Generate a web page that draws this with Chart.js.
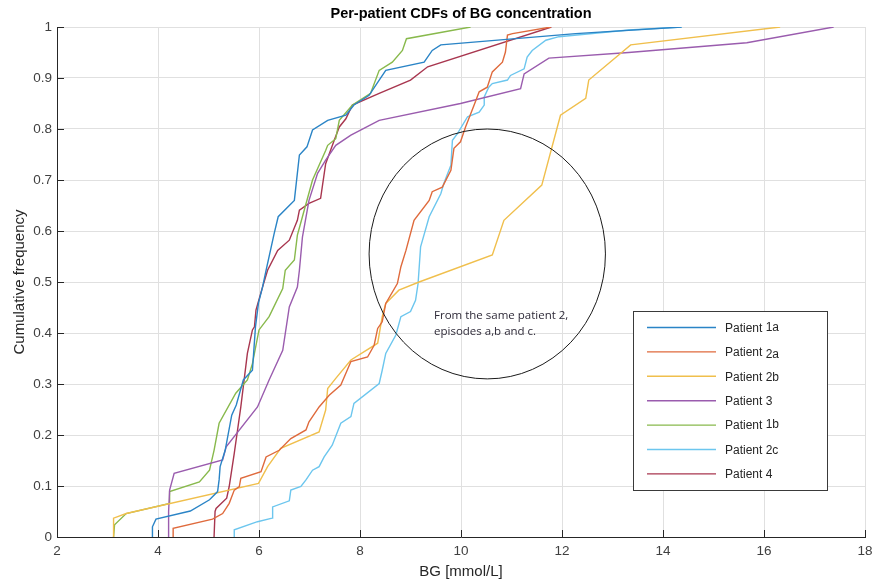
<!DOCTYPE html>
<html>
<head>
<meta charset="utf-8">
<title>Per-patient CDFs of BG concentration</title>
<script src="https://cdn.jsdelivr.net/npm/chart.js@4/dist/chart.umd.min.js"></script>
<style>
  html, body { margin: 0; padding: 0; background: #fff; }
  #wrap { width: 875px; height: 583px; }
</style>
</head>
<body>
<div id="wrap"><canvas id="cdfChart" width="875" height="583"></canvas></div>
<script>
// values (BG in mmol/L, cumulative frequency)
const p1aBG  = [3.89, 3.89, 3.96, 4.64, 5.02, 5.18, 5.21, 5.23, 5.33, 5.46, 5.55, 5.69, 5.87, 5.93, 5.99, 6.07, 6.14, 6.30, 6.38, 6.70, 6.80, 6.95, 7.06, 7.36, 7.72, 7.88, 8.18, 8.38, 8.51, 9.27, 9.43, 9.60, 12.27, 14.37];
const p1aCDF = [0, 0.02, 0.035, 0.051, 0.073, 0.089, 0.112, 0.138, 0.17, 0.239, 0.259, 0.308, 0.327, 0.412, 0.459, 0.49, 0.523, 0.595, 0.628, 0.66, 0.749, 0.765, 0.798, 0.817, 0.827, 0.847, 0.866, 0.896, 0.915, 0.931, 0.954, 0.965, 0.987, 1.0];

const p2aBG  = [4.30, 4.30, 5.08, 5.28, 5.41, 5.51, 5.61, 5.64, 6.04, 6.14, 6.40, 6.63, 6.93, 6.99, 7.19, 7.39, 7.62, 7.82, 8.15, 8.28, 8.35, 8.44, 8.51, 8.74, 8.81, 8.91, 9.07, 9.37, 9.43, 9.63, 9.80, 9.86, 9.99, 10.09, 10.26, 10.36, 10.52, 10.62, 10.82, 10.88, 10.92, 11.02, 11.78];
const p2aCDF = [0, 0.017, 0.035, 0.046, 0.066, 0.092, 0.099, 0.115, 0.128, 0.157, 0.170, 0.193, 0.210, 0.226, 0.255, 0.278, 0.298, 0.344, 0.353, 0.376, 0.409, 0.422, 0.458, 0.497, 0.530, 0.562, 0.621, 0.660, 0.677, 0.686, 0.719, 0.762, 0.775, 0.804, 0.847, 0.873, 0.882, 0.912, 0.931, 0.951, 0.984, 0.987, 1.0];

const p2bBG  = [3.12, 3.12, 3.37, 5.99, 6.17, 6.43, 7.19, 7.32, 7.36, 7.52, 7.82, 8.35, 8.44, 8.51, 8.77, 9.17, 10.62, 10.85, 11.60, 11.97, 12.47, 12.53, 13.36, 16.32];
const p2bCDF = [0, 0.037, 0.046, 0.105, 0.138, 0.174, 0.206, 0.249, 0.291, 0.311, 0.347, 0.380, 0.432, 0.458, 0.484, 0.500, 0.553, 0.621, 0.690, 0.827, 0.860, 0.896, 0.965, 1.0];

const p3BG  = [4.21, 4.21, 4.23, 4.32, 5.28, 5.35, 5.97, 6.20, 6.47, 6.60, 6.76, 6.80, 6.86, 6.99, 7.16, 7.32, 7.52, 7.82, 8.38, 9.99, 11.18, 11.25, 11.74, 13.32, 15.66, 17.38];
const p3CDF = [0, 0.05, 0.092, 0.125, 0.151, 0.177, 0.255, 0.308, 0.366, 0.451, 0.490, 0.523, 0.588, 0.660, 0.713, 0.739, 0.768, 0.788, 0.817, 0.850, 0.879, 0.908, 0.939, 0.950, 0.969, 1.0];

const p1bBG  = [3.12, 3.14, 3.37, 4.23, 4.23, 4.82, 5.02, 5.11, 5.21, 5.54, 5.77, 5.87, 6.00, 6.20, 6.47, 6.52, 6.70, 6.76, 6.86, 7.06, 7.32, 7.36, 7.52, 7.59, 7.85, 8.21, 8.38, 8.64, 8.84, 8.92, 10.19];
const p1bCDF = [0, 0.024, 0.046, 0.066, 0.089, 0.108, 0.131, 0.170, 0.223, 0.282, 0.308, 0.340, 0.406, 0.432, 0.487, 0.523, 0.543, 0.592, 0.628, 0.700, 0.758, 0.768, 0.781, 0.817, 0.847, 0.870, 0.915, 0.931, 0.954, 0.977, 1.0];

const p2cBG  = [5.51, 5.51, 5.97, 6.26, 6.27, 6.60, 6.63, 6.83, 6.93, 7.06, 7.19, 7.29, 7.45, 7.62, 7.82, 7.88, 8.38, 8.44, 8.51, 8.71, 8.81, 9.00, 9.10, 9.15, 9.20, 9.37, 9.60, 9.66, 9.80, 9.83, 9.93, 10.13, 10.36, 10.46, 10.46, 10.55, 10.62, 10.92, 10.98, 11.25, 11.31, 11.41, 11.68, 11.94, 13.32, 14.37];
const p2cCDF = [0, 0.014, 0.030, 0.037, 0.059, 0.071, 0.092, 0.099, 0.112, 0.131, 0.138, 0.157, 0.180, 0.223, 0.236, 0.262, 0.301, 0.327, 0.360, 0.396, 0.432, 0.442, 0.464, 0.497, 0.569, 0.628, 0.673, 0.693, 0.729, 0.778, 0.791, 0.824, 0.833, 0.847, 0.863, 0.882, 0.889, 0.896, 0.905, 0.918, 0.941, 0.954, 0.974, 0.981, 0.994, 1.0];

const p4BG  = [5.11, 5.13, 5.15, 5.36, 5.41, 5.51, 5.64, 5.77, 5.87, 5.91, 5.94, 6.07, 6.17, 6.37, 6.60, 6.76, 6.80, 6.99, 7.22, 7.32, 7.49, 7.59, 7.72, 7.85, 8.38, 9.00, 9.34, 11.79];
const p4CDF = [0, 0.050, 0.056, 0.076, 0.099, 0.164, 0.255, 0.360, 0.406, 0.412, 0.445, 0.490, 0.523, 0.562, 0.582, 0.621, 0.641, 0.654, 0.664, 0.732, 0.778, 0.804, 0.820, 0.847, 0.870, 0.896, 0.922, 1.0];

const seriesNames = ["Patient 1a", "Patient 2a", "Patient 2b", "Patient 3", "Patient 1b", "Patient 2c", "Patient 4"];
const seriesBG  = [p1aBG, p2aBG, p2bBG, p3BG, p1bBG, p2cBG, p4BG];
const seriesCDF = [p1aCDF, p2aCDF, p2bCDF, p3CDF, p1bCDF, p2cCDF, p4CDF];
const seriesColors = ["#2a84c6", "#df6a3c", "#f0bf4c", "#9a5cae", "#88b94c", "#6cc6ee", "#a8364f"];

const xTicks = [2, 4, 6, 8, 10, 12, 14, 16, 18];
const yTicks = [0, 0.1, 0.2, 0.3, 0.4, 0.5, 0.6, 0.7, 0.8, 0.9, 1];

// circled note: centre and radii in data units
const noteCentre = [10.52, 0.555];
const noteRadius = [2.34, 0.245];
const noteText = ["From the same patient 2,", "episodes a,b and c."];

const axisColor = "#262626";
const tickFont = { family: "'Liberation Sans', Arial, sans-serif", size: 13.5 };

const datasets = seriesNames.map((name, i) => ({
  label: name,
  data: seriesBG[i].map((x, j) => ({ x: x, y: seriesCDF[i][j] })),
  borderColor: seriesColors[i],
  backgroundColor: seriesColors[i],
  borderWidth: 1.4,
  pointRadius: 0,
  showLine: true,
  fill: false,
  tension: 0
}));

const extras = {
  id: "extras",
  afterDraw(chart) {
    const ctx = chart.ctx;
    const a = chart.chartArea;
    const xs = chart.scales.x, ys = chart.scales.y;
    ctx.save();

    // inward tick marks
    ctx.strokeStyle = axisColor;
    ctx.lineWidth = 1;
    ctx.beginPath();
    xTicks.forEach(v => {
      const px = Math.round(xs.getPixelForValue(v)) + 0.5;
      ctx.moveTo(px, a.bottom);
      ctx.lineTo(px, a.bottom - 7);
    });
    yTicks.forEach(v => {
      const py = Math.round(ys.getPixelForValue(v)) + 0.5;
      ctx.moveTo(a.left, py);
      ctx.lineTo(a.left + 7, py);
    });
    ctx.stroke();

    // title
    ctx.fillStyle = "#000";
    ctx.font = "bold 14.5px 'Liberation Sans', Arial, sans-serif";
    ctx.textAlign = "center";
    ctx.textBaseline = "middle";
    ctx.fillText("Per-patient CDFs of BG concentration", (a.left + a.right) / 2, 14);

    // axis titles
    ctx.fillStyle = axisColor;
    ctx.font = "15px 'Liberation Sans', Arial, sans-serif";
    ctx.fillText("BG [mmol/L]", (a.left + a.right) / 2, 572);
    ctx.save();
    ctx.translate(20, (a.top + a.bottom) / 2);
    ctx.rotate(-Math.PI / 2);
    ctx.fillText("Cumulative frequency", 0, 0);
    ctx.restore();

    // circle note
    const cx = xs.getPixelForValue(noteCentre[0]);
    const cy = ys.getPixelForValue(noteCentre[1]);
    const rx = xs.getPixelForValue(noteCentre[0] + noteRadius[0]) - cx;
    const ry = cy - ys.getPixelForValue(noteCentre[1] + noteRadius[1]);
    ctx.strokeStyle = "#1a1a1a";
    ctx.lineWidth = 1;
    ctx.beginPath();
    ctx.ellipse(cx, cy, rx, ry, 0, 0, Math.PI * 2);
    ctx.stroke();
    ctx.fillStyle = "#2e2a38";
    ctx.font = "11.5px 'Open Sans', 'Noto Sans', sans-serif";
    ctx.textAlign = "left";
    ctx.fillText(noteText[0], 434, 316);
    ctx.fillText(noteText[1], 434, 332);

    // legend box
    const lx = 633.5, ly = 311.5, lw = 194, lh = 179;
    ctx.fillStyle = "#fff";
    ctx.fillRect(lx, ly, lw, lh);
    ctx.strokeStyle = "#3a3a3a";
    ctx.strokeRect(lx, ly, lw, lh);
    const shift = { "1a": -1, "2a": 2, "1b": -1 };
    chart.data.datasets.forEach((ds, i) => {
      const ry2 = 327.5 + i * 24.4;
      ctx.strokeStyle = ds.borderColor;
      ctx.lineWidth = 1.4;
      ctx.beginPath();
      ctx.moveTo(647, ry2);
      ctx.lineTo(716, ry2);
      ctx.stroke();
      const parts = ds.label.split(" ");
      ctx.fillStyle = axisColor;
      ctx.font = "12px 'Liberation Sans', Arial, sans-serif";
      ctx.fillText(parts[0], 725, ry2 + 1);
      const w = ctx.measureText(parts[0] + " ").width;
      ctx.fillText(parts[1], 725 + w, ry2 + 1 + (shift[parts[1]] || 0));
    });
    ctx.restore();
  }
};

new Chart(document.getElementById("cdfChart"), {
  type: "scatter",
  data: { datasets: datasets },
  options: {
    responsive: false,
    animation: false,
    layout: { padding: { top: 27, right: 10, left: 0, bottom: 0 } },
    plugins: {
      legend: { display: false },
      title: { display: false },
      tooltip: { enabled: false }
    },
    scales: {
      x: {
        type: "linear",
        min: 2, max: 18,
        afterBuildTicks: s => { s.ticks = xTicks.map(v => ({ value: v })); },
        afterFit: s => { s.height = 46; s.paddingLeft = 0; s.paddingRight = 0; },
        grid: { color: "#e0e0e0", drawTicks: false },
        border: { color: axisColor, width: 1 },
        ticks: { color: "#404040", font: tickFont, padding: 6, maxRotation: 0 }
      },
      y: {
        type: "linear",
        min: 0, max: 1,
        afterBuildTicks: s => { s.ticks = yTicks.map(v => ({ value: v })); },
        afterFit: s => { s.width = 57; s.paddingTop = 0; s.paddingBottom = 0; },
        grid: { color: "#e0e0e0", drawTicks: false },
        border: { color: axisColor, width: 1 },
        ticks: { color: "#404040", font: tickFont, padding: 5, callback: v => String(+v.toFixed(1)) }
      }
    }
  },
  plugins: [extras]
});
</script>
</body>
</html>
